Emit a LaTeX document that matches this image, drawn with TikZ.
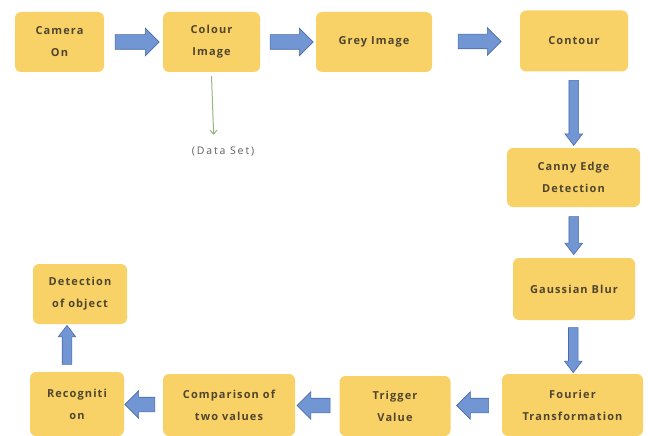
\documentclass[tikz,border=0pt]{standalone}
\usepackage{fontspec}
\usepackage{xcolor}
\usetikzlibrary{shapes.arrows,arrows.meta}
\newfontfamily\boxfont[LetterSpace=10]{Open Sans}
\newfontfamily\datafont[LetterSpace=18]{Open Sans}
\definecolor{yellow1}{HTML}{F8D266}
\definecolor{blue1}{HTML}{7196D3}
\definecolor{blue2}{HTML}{4A6CA8}
\definecolor{brown1}{HTML}{4F4530}
\definecolor{green1}{HTML}{93B77F}
\definecolor{grey1}{HTML}{5F5F5F}

\tikzset{
  box/.style={rounded corners=6pt, fill=yellow1, minimum height=60pt, align=center,
    text=brown1, font=\boxfont\bfseries\fontsize{11}{22}\selectfont, inner sep=2pt},
  fatarrow/.style={single arrow, fill=blue1, draw=blue2, line width=0.6pt,
    inner sep=7pt, text height=0pt, text depth=0pt,
    single arrow head extend=6.5pt, minimum height=#1},
  thinarrow/.style={fatarrow=#1, inner sep=4.5pt, single arrow head extend=4pt,
    single arrow tip angle=75},
}

\begin{document}
\begin{tikzpicture}[x=1pt,y=-1pt]

\fill[white] (0,0) rectangle (648,436);
\useasboundingbox (0,0) rectangle (648,436);

\begin{scope}

\node (cam) at (59.5,42)[box, minimum width=89pt]{Camera\\On};
\node (col) at (211.5,42)[box, minimum width=97pt]{Colour\\Image};
\node (grey) at (374,42)[box, minimum width=116pt]{Grey Image};
\node (cont) at (574,41)[box, minimum width=108pt, minimum height=61pt]{Contour};
\node (canny) at (573.5,177.5)[box, minimum width=133pt, minimum height=59pt]{Canny Edge\\Detection};
\node (gauss) at (574,289)[box, minimum width=122pt, minimum height=62pt]{Gaussian Blur};
\node (four) at (572.5,405)[box, minimum width=141pt, minimum height=62pt]{Fourier\\Transformation};
\node (trig) at (395,406)[box, minimum width=111pt]{Trigger\\Value};
\node (comp) at (229,405)[box, minimum width=132pt, minimum height=62pt]{Comparison of\\two values};
\node (recog) at (77,404)[box, minimum width=94pt, minimum height=64pt]{Recogniti\\on};
\node (detect) at (80,294)[box, minimum width=94pt]{Detection\\of object};

\node (data) at (223,152)[text=grey1, font=\datafont\fontsize{10.5}{12}\selectfont]{(Data Set)};



\path (cam.east) -- (col.west) node[midway, fatarrow=44pt]{};
\path (col.east) -- (grey.west) node[midway, fatarrow=43pt]{};
\path (grey.east) -- (cont.west) node[midway, fatarrow=43pt]{};
\path (cont.south) -- (canny.north) node[midway, thinarrow=65pt, shape border rotate=270]{};
\path (canny.south) -- (gauss.north) node[midway, thinarrow=38pt, shape border rotate=270]{};
\path (gauss.south) -- (four.north) node[midway, thinarrow=45pt, shape border rotate=270]{};
\path (four.west) -- (trig.east) node[midway, fatarrow=32pt, shape border rotate=180]{};
\path (trig.west) -- (comp.east) node[midway, fatarrow=33pt, shape border rotate=180]{};
\path (comp.west) -- (recog.east) node[midway, fatarrow=30pt, shape border rotate=180]{};
\path ([xshift=-10pt]recog.north) -- ([xshift=-13pt]detect.south) node[midway, thinarrow=39pt, shape border rotate=90]{};

\draw[green1, line width=1pt, -{Straight Barb[length=4pt,width=7pt]}, shorten >=9pt] ([yshift=-4pt]col.south) -- ([xshift=-9pt]data.north);

\end{scope}

\end{tikzpicture}
\end{document}
